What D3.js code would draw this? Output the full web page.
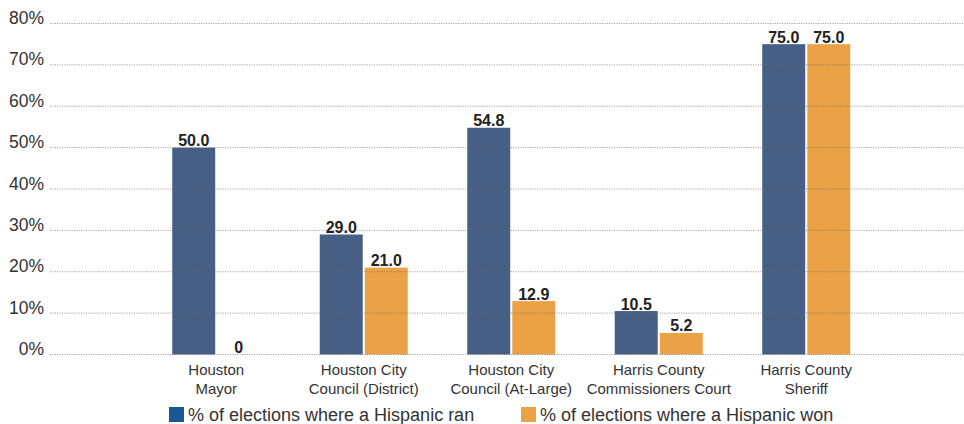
<!DOCTYPE html>
<html><head><meta charset="utf-8">
<script src="https://cdn.jsdelivr.net/npm/d3@7"></script>
<style>body{margin:0;background:#fff}svg{display:block}</style>
</head><body><svg id="c" width="964" height="424"></svg>
<script>
const categories = [["Houston","Mayor"],["Houston City","Council (District)"],["Houston City","Council (At-Large)"],["Harris County","Commissioners Court"],["Harris County","Sheriff"]];
const ranValues = [50.0, 29.0, 54.8, 10.5, 75.0];
const wonValues = [0, 21.0, 12.9, 5.2, 75.0];
const ranLabels = ["50.0","29.0","54.8","10.5","75.0"];
const wonLabels = ["0","21.0","12.9","5.2","75.0"];
const yTicks = [0,10,20,30,40,50,60,70,80];
const seriesNames = ["% of elections where a Hispanic ran","% of elections where a Hispanic won"];

const svg = d3.select("#c");
const font = "'Liberation Sans', Arial, sans-serif";
const y = d3.scaleLinear().domain([0,80]).range([354.5,23.5]);
const keys = categories.map(c=>c.join(" "));
const x = d3.scaleBand().domain(keys).range([142.5,880]).paddingInner(0.4034).paddingOuter(0.2017);
const sub = d3.scaleBand().domain([0,1]).range([0,x.bandwidth()]).paddingInner(0.0455);
const colors = ["#475e85","#eba145"];
const legendColors = ["#1b5797","#eba145"];

const g = svg.append("g");
[ranValues, wonValues].forEach((vals,si)=>{
  g.selectAll(".b"+si).data(vals).join("rect")
    .attr("x",(d,i)=>x(keys[i])+sub(si)).attr("width",sub.bandwidth())
    .attr("y",d=>y(d)).attr("height",d=>y(0)-y(d)).attr("fill",colors[si]);
});
const yAxis = d3.axisLeft(y).tickValues(yTicks).tickSize(0).tickFormat(d=>d+"%");
const ax = svg.append("g").attr("transform","translate(50,0)").call(yAxis);
ax.select(".domain").remove();
ax.selectAll("text").attr("x",-6).attr("dy","0").attr("font-family",font).attr("font-size",17.5).attr("fill","#333");
svg.append("g").selectAll("line").data(yTicks).join("line")
  .attr("x1",50).attr("x2",964).attr("y1",d=>y(d)).attr("y2",d=>y(d))
  .attr("stroke","#666").attr("stroke-opacity",0.7).attr("stroke-width",1).attr("stroke-dasharray","1,1.4");
[[ranValues,ranLabels],[wonValues,wonLabels]].forEach(([vals,labs],si)=>{
  svg.append("g").selectAll("text").data(vals).join("text")
    .attr("x",(d,i)=>x(keys[i])+sub(si)+sub.bandwidth()/2).attr("y",d=>y(d)-1.5)
    .attr("text-anchor","middle").attr("font-family",font).attr("font-weight","bold")
    .attr("font-size",16).attr("fill","#222").text((d,i)=>labs[i]);
});
const cl = svg.append("g").selectAll("text").data(categories).join("text")
  .attr("text-anchor","middle").attr("font-family",font).attr("font-size",15).attr("fill","#333");
cl.each(function(c,i){
  const t=d3.select(this), cx=x(keys[i])+x.bandwidth()/2;
  c.forEach((line,j)=>t.append("tspan").attr("x",cx).attr("y",375+j*18.5).text(line));
});
const leg = [{x:169,tx:188},{x:521,tx:540}];
leg.forEach((l,i)=>{
  svg.append("rect").attr("x",l.x).attr("y",407).attr("width",15).attr("height",15).attr("fill",legendColors[i]);
  svg.append("text").attr("x",l.tx).attr("y",421).attr("font-family",font).attr("font-size",18).attr("fill","#333").text(seriesNames[i]);
});
</script></body></html>
